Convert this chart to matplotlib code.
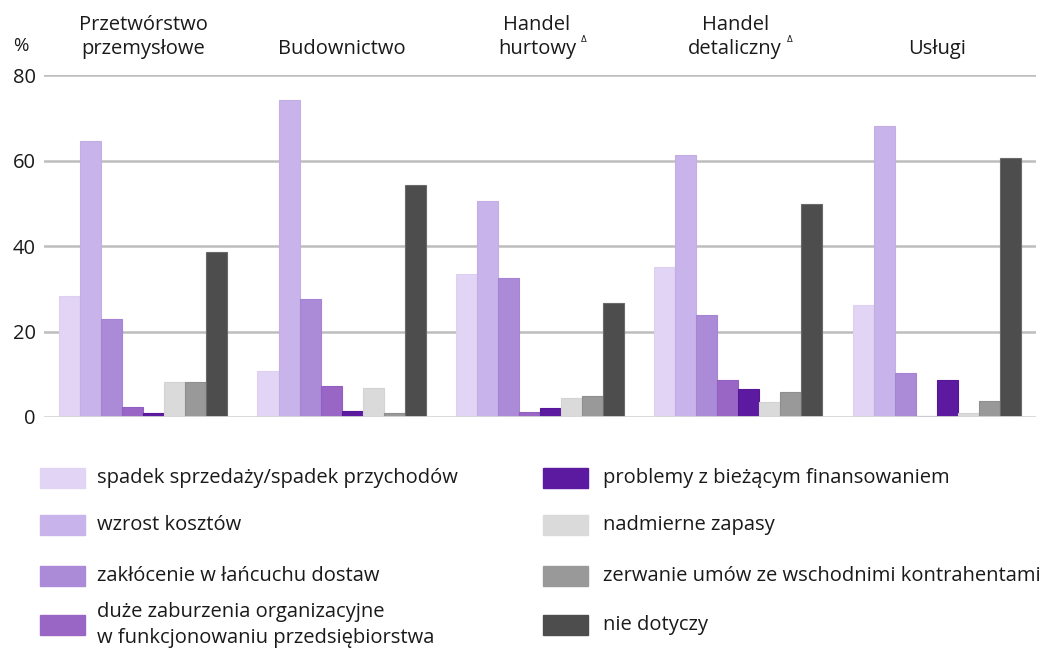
import numpy as np
import matplotlib
matplotlib.use('Agg')
import matplotlib.pyplot as plt
from matplotlib.patches import Rectangle

plt.rcParams['font.family'] = ['Open Sans', 'DejaVu Sans']

# sectors (top labels) and problem categories (bars)
sectors = ["Przetwórstwo\nprzemysłowe", "Budownictwo", "Handel\nhurtowy",
           "Handel\ndetaliczny", "Usługi"]
sector_marks = [False, False, True, True, False]

series_names = [
    "spadek sprzedaży/spadek przychodów",
    "wzrost kosztów",
    "zakłócenie w łańcuchu dostaw",
    "duże zaburzenia organizacyjne\nw funkcjonowaniu przedsiębiorstwa",
    "problemy z bieżącym finansowaniem",
    "nadmierne zapasy",
    "zerwanie umów ze wschodnimi kontrahentami",
    "nie dotyczy",
]

spadek = [28.4, 10.8, 33.4, 35.0, 26.1]
wzrost = [64.7, 74.2, 50.5, 61.3, 68.1]
zaklocenie = [23.0, 27.6, 32.5, 23.9, 10.4]
zaburzenia = [2.3, 7.2, 1.2, 8.6, 0.3]
finansowanie = [0.9, 1.4, 2.2, 6.5, 8.6]
zapasy = [8.1, 6.7, 4.5, 3.6, 0.9]
zerwanie = [8.1, 1.0, 5.0, 5.9, 3.7]
nie_dotyczy = [38.6, 54.2, 26.7, 49.8, 60.6]

series_values = [spadek, wzrost, zaklocenie, zaburzenia,
                 finansowanie, zapasy, zerwanie, nie_dotyczy]
colors = ["#e2d4f5", "#c8b4ea", "#ab8ad8", "#9966c6",
          "#5c1aa0", "#d9dad9", "#999999", "#4d4d4d"]
edges = ["#ddd0f0", "#c2ade5", "#a584d2", "#9260c0",
         "#561899", "#d2d3d2", "#8f8f8f", "#6a6a6a"]
yticks = [0, 20, 40, 60, 80]

W, H = 1048, 648
FS = 14.5
fig = plt.figure(figsize=(W / 100, H / 100), dpi=100)
ax = fig.add_axes([0.042, 0.3565, 0.9465, 0.5275])

x = np.arange(len(sectors))
n = len(series_values)
width = 0.106
for i, (vals, col, ec) in enumerate(zip(series_values, colors, edges)):
    offs = (i - (n - 1) / 2) * width
    ax.bar(x + offs, vals, width=width, color=col, zorder=3,
           edgecolor=ec, linewidth=0.8)

ax.set_xlim(-0.5, len(sectors) - 0.5)
ax.set_ylim(0, 80)
ax.set_yticks(yticks)
ax.set_yticklabels([str(t) for t in yticks], fontsize=FS, color="#1a1a1a")
ax.set_xticks([])
ax.tick_params(axis='y', length=0, pad=6)
for s in ax.spines.values():
    s.set_visible(False)
for t in yticks[1:]:
    ax.axhline(t, color="#bdbdbd", lw=1.8, zorder=1)
ax.axhline(0, color="#d6d6d6", lw=2, zorder=4)

ax.text(-0.023, 1.07, "%", transform=ax.transAxes, ha='center',
        va='baseline', fontsize=FS - 1, color="#1a1a1a")

# sector headers above the plot
renderer = fig.canvas.get_renderer()
head_y = 1 - 54 / H
for xi, name, mark in zip(x, sectors, sector_marks):
    xf = ax.transData.transform((xi, 0))[0] / W
    if mark:
        xf -= 0.003
    t = fig.text(xf, head_y, name, ha='center', va='baseline',
                 fontsize=FS, color="#1a1a1a", linespacing=1.27)
    if mark:
        bb = t.get_window_extent(renderer).transformed(fig.transFigure.inverted())
        fig.text(bb.x1 + 0.005, head_y + 12 / H, "Δ", fontsize=6,
                 color="#1a1a1a", family='DejaVu Sans', va='baseline')

# legend, two columns drawn by hand
row_y = [478, 525, 576, 625]
col_x = [40, 543]
text_gap = [57, 60]
for i, (name, col) in enumerate(zip(series_names, colors)):
    cx = col_x[i // 4]
    cy = row_y[i % 4]
    fig.add_artist(Rectangle((cx / W, 1 - (cy + 10) / H), 45 / W, 20 / H,
                             transform=fig.transFigure, color=col))
    fig.text((cx + text_gap[i // 4]) / W, 1 - cy / H, name, ha='left',
             va='center', fontsize=FS, color="#1a1a1a", linespacing=1.45)

fig.savefig("out.png", dpi=100)
